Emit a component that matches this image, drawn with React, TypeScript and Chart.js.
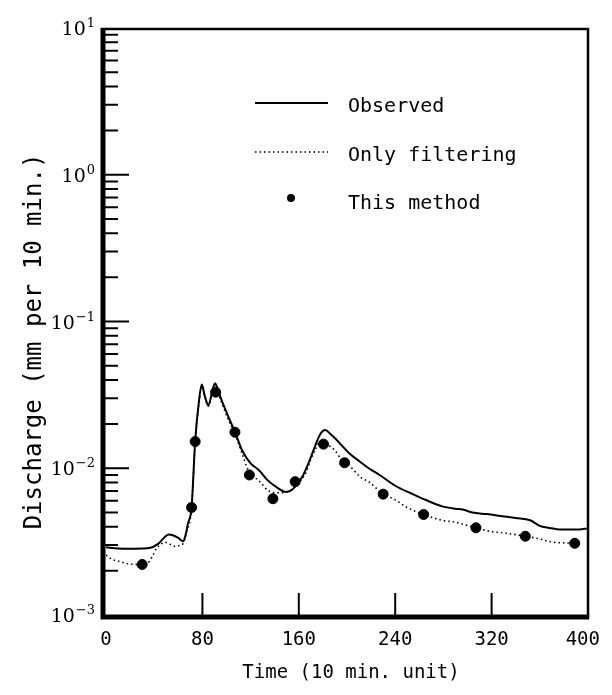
import { useEffect, useRef } from "react";
import { Chart, registerables } from "chart.js";

Chart.register(...registerables);

// ---- data ----
const observedTime = [0, 10, 20, 30, 36, 43, 48, 52, 56, 60, 64, 66, 68, 71, 74, 77, 79.5, 82, 85, 88, 90.5, 93, 96, 102, 107, 113, 120, 127, 134, 143, 149, 153, 157, 163, 168, 174, 178, 182, 186, 190.5, 196, 202, 210, 218, 227, 240, 254, 265, 279, 290, 296, 304, 316, 329, 340, 352, 360, 368, 374, 385, 393, 399];
const observedValue = [0.0029, 0.00284, 0.00283, 0.00284, 0.00286, 0.00304, 0.00335, 0.00354, 0.00348, 0.00335, 0.00318, 0.0035, 0.0042, 0.0054, 0.0153, 0.028, 0.0372, 0.031, 0.0268, 0.033, 0.038, 0.034, 0.029, 0.022, 0.0177, 0.0132, 0.0108, 0.0097, 0.0083, 0.0073, 0.0069, 0.007, 0.0075, 0.0088, 0.0108, 0.0145, 0.0172, 0.0182, 0.0172, 0.0159, 0.0142, 0.0126, 0.0112, 0.01, 0.009, 0.0076, 0.0067, 0.0061, 0.0055, 0.0053, 0.00524, 0.00499, 0.00487, 0.00471, 0.00458, 0.00442, 0.00405, 0.00392, 0.00384, 0.00382, 0.00383, 0.00389];

const filterTime = [0, 5, 10, 21, 30, 36, 39, 42, 46, 49, 53, 57, 61, 64, 67, 71, 74, 77, 79.5, 82, 85, 88, 90.5, 93, 96, 102, 107, 113, 118, 124, 129, 134, 143, 150, 156, 162, 166, 170, 174, 177, 182, 186, 190, 196, 201, 212, 218, 230, 240, 249, 263.6, 280, 288, 306.8, 320, 330, 348, 360, 368.6, 389, 394];
const filterValue = [0.00256, 0.0024, 0.00233, 0.00222, 0.00221, 0.00232, 0.00256, 0.00284, 0.00305, 0.00313, 0.00303, 0.00294, 0.00298, 0.00307, 0.0037, 0.0053, 0.015, 0.027, 0.036, 0.031, 0.0265, 0.032, 0.037, 0.033, 0.028, 0.021, 0.0172, 0.0125, 0.0097, 0.0086, 0.0079, 0.0071, 0.0068, 0.0069, 0.0074, 0.0083, 0.0094, 0.0115, 0.0135, 0.015, 0.0146, 0.0141, 0.0132, 0.0113, 0.0106, 0.0086, 0.0081, 0.00666, 0.0061, 0.00545, 0.00484, 0.0044, 0.00432, 0.00393, 0.0037, 0.00363, 0.00344, 0.0033, 0.00316, 0.00308, 0.00306];

const methodTime = [30, 71, 74, 91, 107, 119, 138.5, 157, 180.5, 198, 230, 263.6, 307, 348, 389];
const methodValue = [0.00221, 0.0054, 0.0152, 0.033, 0.0176, 0.009, 0.0062, 0.0081, 0.0146, 0.0109, 0.00666, 0.00484, 0.00393, 0.00344, 0.00308];

const xTickValues = [0, 80, 160, 240, 320, 400];
const yDecades = [-3, -2, -1, 0, 1];
const legendLabels = ["Observed", "Only filtering", "This method"];
const xTitle = "Time (10 min. unit)";
const yTitle = "Discharge (mm per 10 min.)";

const MONO = '"DejaVu Sans Mono", monospace';
const SERIF = '"DejaVu Serif", serif';

const toPoints = (xs: number[], ys: number[]) => xs.map((x, i) => ({ x, y: ys[i] }));

const framePlugin = {
  id: "frame",
  afterDraw(chart: any) {
    const ctx: CanvasRenderingContext2D = chart.ctx;
    const xs = chart.scales.x;
    const ys = chart.scales.y;
    const a = chart.chartArea;
    ctx.save();
    ctx.strokeStyle = "#000";
    ctx.fillStyle = "#000";
    ctx.lineCap = "butt";

    // frame
    ctx.lineWidth = 2.5;
    ctx.beginPath();
    ctx.moveTo(a.left - 5, a.top + 1);
    ctx.lineTo(a.right + 1, a.top + 1);
    ctx.moveTo(a.right, a.top);
    ctx.lineTo(a.right, a.bottom + 2);
    ctx.stroke();
    ctx.lineWidth = 5;
    ctx.beginPath();
    ctx.moveTo(a.left - 3, a.top);
    ctx.lineTo(a.left - 3, a.bottom + 4.5);
    ctx.moveTo(a.left - 5.5, a.bottom + 2);
    ctx.lineTo(a.right + 1.2, a.bottom + 2);
    ctx.stroke();

    // y ticks (inside)
    ctx.lineWidth = 2;
    ctx.beginPath();
    yDecades.forEach((d) => {
      const py = ys.getPixelForValue(Math.pow(10, d));
      if (d > -3 && d < 1) {
        ctx.moveTo(a.left - 1, py);
        ctx.lineTo(a.left + 23, py);
      }
      if (d < 1) {
        for (let m = 2; m <= 9; m++) {
          const pm = ys.getPixelForValue(m * Math.pow(10, d));
          ctx.moveTo(a.left - 1, pm);
          ctx.lineTo(a.left + 12, pm);
        }
      }
    });
    ctx.stroke();

    // x ticks (inside)
    ctx.beginPath();
    xTickValues.forEach((v) => {
      if (v <= 0 || v >= 400) return;
      const px = xs.getPixelForValue(v);
      ctx.moveTo(px, a.bottom);
      ctx.lineTo(px, a.bottom - 22);
    });
    ctx.stroke();

    // x tick labels
    ctx.font = `19px ${MONO}`;
    ctx.textAlign = "center";
    ctx.textBaseline = "alphabetic";
    xTickValues.forEach((v) => {
      const label = String(v);
      const w = ctx.measureText(label).width;
      let px = xs.getPixelForValue(v);
      px = Math.min(px, 600 - w / 2);
      ctx.fillText(label, px, a.bottom + 30);
    });

    // y tick labels: 10 with superscript exponent
    yDecades.forEach((d) => {
      const py = ys.getPixelForValue(Math.pow(10, d));
      const sup = d < 0 ? "\u2212" + Math.abs(d) : String(d);
      ctx.font = `13px ${SERIF}`;
      const sw = ctx.measureText(sup).width;
      const right = 95;
      ctx.textAlign = "left";
      ctx.fillText(sup, right - sw, py - 1);
      ctx.font = `19px ${SERIF}`;
      ctx.textAlign = "right";
      ctx.fillText("10", right - sw - 1, py + 7);
    });

    // axis titles
    ctx.font = `19px ${MONO}`;
    ctx.textAlign = "center";
    ctx.fillText(xTitle, 351, 678);

    ctx.save();
    ctx.translate(41, 341.5);
    ctx.rotate(-Math.PI / 2);
    ctx.font = `24px ${MONO}`;
    ctx.textAlign = "center";
    ctx.fillText(yTitle, 0, 0);
    ctx.restore();

    // legend
    ctx.lineWidth = 2;
    ctx.beginPath();
    ctx.moveTo(255, 103);
    ctx.lineTo(328, 103);
    ctx.stroke();
    ctx.lineWidth = 1.6;
    ctx.setLineDash([1.5, 3]);
    ctx.beginPath();
    ctx.moveTo(255, 152);
    ctx.lineTo(328, 152);
    ctx.stroke();
    ctx.setLineDash([]);
    ctx.beginPath();
    ctx.arc(291, 198, 4, 0, Math.PI * 2);
    ctx.fill();

    ctx.font = `20px ${MONO}`;
    ctx.textAlign = "left";
    ctx.fillText(legendLabels[0], 348, 111.5);
    ctx.fillText(legendLabels[1], 348, 160.5);
    ctx.fillText(legendLabels[2], 348, 208.5);

    ctx.restore();
  },
};

export default function App() {
  const ref = useRef<HTMLCanvasElement | null>(null);

  useEffect(() => {
    if (!ref.current) return;
    const chart = new Chart(ref.current, {
      type: "line",
      data: {
        datasets: [
          {
            label: legendLabels[2],
            data: toPoints(methodTime, methodValue),
            showLine: false,
            pointRadius: 5,
            pointBackgroundColor: "#000",
            pointBorderColor: "#000",
            borderColor: "#000",
            order: 0,
          },
          {
            label: legendLabels[0],
            data: toPoints(observedTime, observedValue),
            borderColor: "#000",
            borderWidth: 2,
            pointRadius: 0,
            cubicInterpolationMode: "monotone",
            fill: false,
            order: 1,
          },
          {
            label: legendLabels[1],
            data: toPoints(filterTime, filterValue),
            borderColor: "#000",
            borderWidth: 1.6,
            borderDash: [1.5, 3],
            pointRadius: 0,
            cubicInterpolationMode: "monotone",
            fill: false,
            order: 2,
          },
        ],
      },
      options: {
        animation: false,
        responsive: false,
        devicePixelRatio: 1,
        layout: { padding: { top: 28, right: 24, left: 0, bottom: 0 } },
        plugins: {
          legend: { display: false },
          tooltip: { enabled: false },
        },
        scales: {
          x: {
            type: "linear",
            min: 0,
            max: 400,
            grid: { display: false, drawTicks: false },
            border: { display: false },
            ticks: { display: false },
            afterFit: (s: any) => {
              s.height = 80;
            },
          },
          y: {
            type: "logarithmic",
            min: 0.001,
            max: 10,
            grid: { display: false, drawTicks: false },
            border: { display: false },
            ticks: { display: false },
            afterFit: (s: any) => {
              s.width = 106;
            },
          },
        },
      },
      plugins: [framePlugin],
    });
    return () => chart.destroy();
  }, []);

  return (
    <div style={{ position: "absolute", left: 0, top: 0, width: 612, height: 695, background: "#fff" }}>
      <canvas ref={ref} width={612} height={695} />
    </div>
  );
}
